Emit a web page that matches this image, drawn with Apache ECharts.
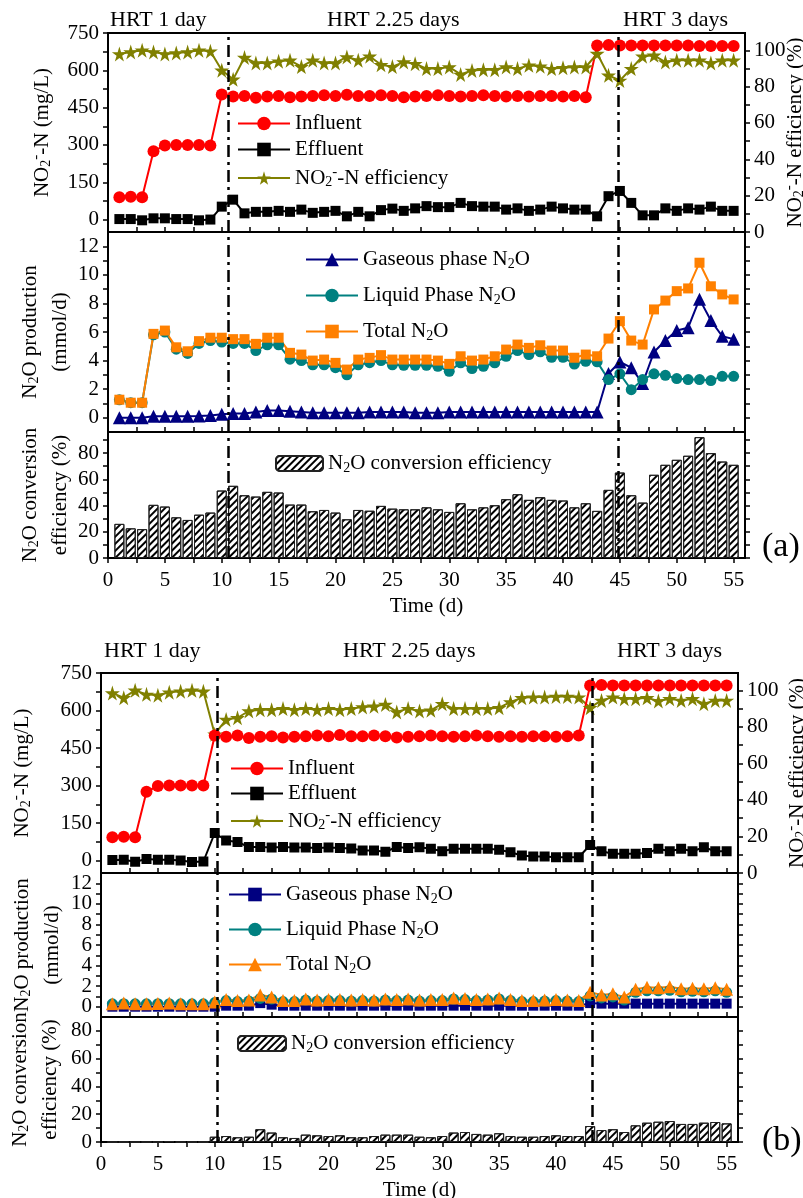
<!DOCTYPE html>
<html>
<head>
<meta charset="utf-8">
<script src="https://cdn.jsdelivr.net/npm/echarts@6/dist/echarts.min.js"></script>
<style>
  html, body { margin: 0; padding: 0; background: #fff; }
  #main { width: 803px; height: 1198px; }
</style>
</head>
<body>
<div id="main"></div>
<script>
// days of operation
var days = [1,2,3,4,5,6,7,8,9,10,11,12,13,14,15,16,17,18,19,20,21,22,23,24,25,26,27,28,29,30,
  31,32,33,34,35,36,37,38,39,40,41,42,43,44,45,46,47,48,49,50,51,52,53,54,55];

// tick labels / tick positions
var xLabels = [0,5,10,15,20,25,30,35,40,45,50,55];
var xTicks = [0,2.5,5,7.5,10,12.5,15,17.5,20,22.5,25,27.5,30,32.5,35,37.5,40,42.5,45,47.5,50,52.5,55];
var nitLabels = [0,150,300,450,600,750];
var nitTicks = [0,75,150,225,300,375,450,525,600,675,750];
var effLabels = [0,20,40,60,80,100];
var effTicks = [0,10,20,30,40,50,60,70,80,90,100];
var prodLabels = [0,2,4,6,8,10,12];
var prodLabelsEven = [0,4,8,12];   // (b) panel is short: labels split over two axes
var prodLabelsOdd = [2,6,10];
var prodTicks = [0,1,2,3,4,5,6,7,8,9,10,11,12];
var convLabels = [0,20,40,60,80];
var convTicks = [0,10,20,30,40,50,60,70,80,90];

// HRT switch days (dash-dot lines)
var switchA = [10.58, 44.85];
var switchB = [10.2, 43.2];

// (a) NO2- -N (mg/L) and removal efficiency (%)
var influentA = [90,92,90,275,298,300,300,300,298,503,
  495,497,490,495,497,492,495,497,500,497,
  502,497,497,500,497,492,495,497,500,497,
  495,497,500,497,495,497,495,497,497,495,
  497,492,700,702,700,700,700,700,700,700,
  700,698,698,698,698];
var effluentA = [2,2,-3,5,5,2,2,-3,0,52,
  80,25,31,31,35,31,40,27,31,35,
  13,31,13,38,44,35,45,54,50,50,
  67,54,52,52,40,45,35,40,52,45,
  40,40,13,94,115,67,17,17,45,35,
  45,40,52,35,35];
var effA = [98,99,100,99,98,98.5,99,100,99.5,89,
  84,96,93,93,94,94.5,91,94.5,93,93,
  96.3,94.5,96.7,92,91,93.5,92.6,89.9,89.9,90.8,
  86.7,88.9,89.3,89.3,90.8,89.9,91.7,91.2,89.9,90.4,
  90.8,90.8,98.2,86.2,83.4,89.9,96.7,97.2,93.5,94.5,
  94.5,94.5,93,94.5,94.5];
// (a) N2O production (mmol/d)
var gasA = [0,0,0,0.1,0.1,0.1,0.1,0.12,0.15,0.25,
  0.3,0.3,0.4,0.5,0.5,0.45,0.4,0.35,0.35,0.35,
  0.35,0.35,0.4,0.4,0.4,0.4,0.35,0.35,0.35,0.4,
  0.4,0.4,0.4,0.4,0.4,0.4,0.4,0.4,0.4,0.4,
  0.4,0.4,0.4,3.1,3.9,3.5,2.4,4.6,5.4,6.1,
  6.3,8.3,6.8,5.7,5.5];
var liqA = [1.25,1.05,1.05,5.8,6.0,4.8,4.5,5.2,5.4,5.3,
  5.2,5.2,4.7,5.1,5.1,4.1,4.0,3.7,3.7,3.5,
  3.0,3.7,3.85,4.0,3.7,3.67,3.67,3.67,3.6,3.25,
  3.84,3.44,3.6,3.84,4.3,4.7,4.42,4.61,4.23,4.23,
  3.76,3.95,3.91,2.67,3.07,1.96,2.67,3.07,2.97,2.74,
  2.67,2.67,2.6,2.9,2.9];
var totA = [1.26,1.05,1.05,5.87,6.1,4.93,4.65,5.36,5.6,5.6,
  5.5,5.5,5.17,5.6,5.6,4.54,4.42,4.0,4.07,3.84,
  3.37,4.07,4.19,4.38,4.07,4.07,4.07,4.07,4.0,3.77,
  4.3,4.0,4.07,4.3,4.77,5.12,4.89,5.07,4.7,4.7,
  4.2,4.42,4.3,5.54,6.76,5.4,5.12,7.58,8.2,8.86,
  9.05,10.85,9.2,8.63,8.28];
// (a) N2O conversion efficiency (%)
var convA = [26,22.6,22,40.5,39.2,31,29,33,34.6,51.4,
  55,47.8,46.8,50.4,49.9,40.7,40.7,35.6,36.6,34.6,
  29.5,36.6,36,39.7,37.6,37.1,37.1,38.6,37.1,35.1,
  41.7,37.1,38.6,40.2,44.8,48.6,44.3,46.3,44.3,43.8,
  38.6,41.7,35.9,51.9,65.1,47.8,42.2,63.4,71,74.8,
  77.9,92.1,79.9,73.5,71];

// (b) same quantities
var influentB = [93,95,93,275,298,300,300,300,300,500,
  495,500,490,495,497,492,495,497,500,497,
  502,497,497,500,497,492,495,497,500,497,
  495,497,500,497,495,497,495,497,497,495,
  497,500,700,702,700,700,700,700,700,700,
  700,700,700,700,700];
var effluentB = [2,3,-5,6,3,3,0,-6,-4,110,
  80,74,54,54,52,54,52,52,50,52,
  50,48,40,40,35,54,50,53,47,37,
  47,47,47,47,43,33,20,16,16,13,
  13,13,62,37,27,27,27,30,47,37,
  47,37,53,37,37];
var effB = [98.5,96,100,97.8,97.3,99,99.5,100,99.5,76,
  84,85,88.7,89.4,89.4,90,89.4,90,89.4,90,
  89.4,90,90.9,91.3,92.3,88.2,90,88.7,89.1,92.7,
  90,90,90,90,90.5,93.6,95.9,96.3,96.3,96.7,
  96.7,96.3,90.5,94.5,96.3,95.4,95.4,95.9,94.2,95.4,
  94.5,95.4,92.7,94.5,94.5];
var gasB = [0,0,0,0,0,0,0,0,0,0,
  0.1,0.1,0.1,0.35,0.2,0.1,0.1,0.1,0.1,0.1,
  0.1,0.1,0.1,0.1,0.1,0.1,0.1,0.1,0.1,0.1,
  0.1,0.1,0.1,0.1,0.1,0.1,0.1,0.1,0.1,0.1,
  0.1,0.1,0.35,0.3,0.3,0.3,0.3,0.3,0.3,0.3,
  0.3,0.3,0.3,0.3,0.3];
var liqB = [0.28,0.3,0.28,0.28,0.3,0.3,0.28,0.28,0.28,0.4,
  0.6,0.5,0.55,0.8,0.75,0.5,0.5,0.65,0.55,0.6,
  0.6,0.55,0.6,0.55,0.65,0.6,0.65,0.55,0.6,0.6,
  0.75,0.7,0.6,0.65,0.75,0.6,0.5,0.5,0.55,0.6,
  0.55,0.5,1.05,0.85,0.95,0.65,1.4,1.55,1.55,1.6,
  1.45,1.5,1.45,1.55,1.4];
var totB = [0.3,0.35,0.3,0.3,0.32,0.35,0.3,0.3,0.3,0.45,
  0.7,0.6,0.65,1.15,0.95,0.6,0.6,0.75,0.65,0.7,
  0.7,0.65,0.7,0.65,0.75,0.7,0.75,0.65,0.7,0.7,
  0.85,0.8,0.7,0.75,0.85,0.7,0.6,0.6,0.65,0.7,
  0.65,0.6,1.4,1.15,1.25,0.95,1.7,1.9,1.85,1.95,
  1.75,1.8,1.75,1.85,1.7];
var convB = [0,0,0,0,0,0.5,0,0,0,3.8,
  4.3,3.4,3.8,9.2,6.8,3.4,2.9,5.3,4.8,4.3,
  4.8,3.4,3.4,4.3,5.3,5.3,5.3,3.8,3.4,4.3,
  6.8,7.2,5.8,5.3,6.3,4.3,3.8,3.8,4.3,4.8,
  4.3,4.3,11.5,8.6,9.2,7.2,12,13.9,14.6,15.1,
  13,13,13.9,14.4,13.4];

var serif = 'Liberation Serif';
var black = '#000';
var star = 'path://M50,0 L61,35 L98,35 L68,57 L79,91 L50,70 L21,91 L32,57 L2,35 L39,35 Z';

// rich styles for sub / superscripts
var rich = {
  n: { fontSize: 21, fontFamily: serif, color: black },
  s: { fontSize: 14, fontFamily: serif, color: black, padding: [9, 0, 0, 0] },
  p: { fontSize: 15, fontFamily: serif, color: black, padding: [0, 0, 11, 0] }
};

var legendText = {
  aInf: '{n|Influent}', aEff: '{n|Effluent}', aPct: '{n|NO}{s|2}{p|-}{n|-N efficiency}',
  aGas: '{n|Gaseous phase N}{s|2}{n|O}', aLiq: '{n|Liquid Phase N}{s|2}{n|O}', aTot: '{n|Total N}{s|2}{n|O}',
  aConv: '{n|N}{s|2}{n|O conversion efficiency}',
  bInf: '{n|Influent}', bEff: '{n|Effluent}', bPct: '{n|NO}{s|2}{p|-}{n|-N efficiency}',
  bGas: '{n|Gaseous phase N}{s|2}{n|O}', bLiq: '{n|Liquid Phase N}{s|2}{n|O}', bTot: '{n|Total N}{s|2}{n|O}',
  bConv: '{n|N}{s|2}{n|O conversion efficiency}'
};

var gridBoxes = [
  { left: 108, right: 58, top: 33, height: 199 },
  { left: 108, right: 58, top: 232, height: 200 },
  { left: 108, right: 58, top: 432, height: 126 },
  { left: 101, right: 65, top: 673, height: 200 },
  { left: 101, right: 65, top: 873, height: 144 },
  { left: 101, right: 65, top: 1017, height: 125 }
];
var grids = gridBoxes.map(function (g) {
  return Object.assign({
    show: true, borderColor: black, borderWidth: 2, backgroundColor: 'transparent',
    containLabel: false, outerBoundsMode: 'none'
  }, g);
});

var xAxes = [];
for (var g = 0; g < 6; g++) {
  var bottom = (g === 2 || g === 5);
  xAxes.push({
    type: 'value', gridIndex: g, min: 0, max: 56,
    axisLine: { show: false, onZero: false },
    axisTick: { show: true, inside: !bottom, length: 5, customValues: xTicks, lineStyle: { color: black, width: 1.5 } },
    axisLabel: { show: bottom, customValues: xLabels, fontSize: 21, fontFamily: serif, color: black, margin: 12, hideOverlap: false },
    splitLine: { show: false },
    name: bottom ? 'Time (d)' : '', nameLocation: 'middle', nameGap: 38, nameMoveOverlap: false,
    nameTextStyle: { fontSize: 21, fontFamily: serif, color: black }
  });
}

function yAx(g, pos, min, max, labels, ticks, name, gap) {
  return {
    type: 'value', gridIndex: g, position: pos, min: min, max: max,
    axisLine: { show: false, onZero: false },
    axisTick: { show: !!ticks, length: 5, customValues: ticks || labels, lineStyle: { color: black, width: 1.5 } },
    axisLabel: {
      show: !!labels, customValues: labels || ticks, fontSize: 21, fontFamily: serif, color: black,
      margin: 9, hideOverlap: false, showMinLabel: true, showMaxLabel: true
    },
    splitLine: { show: false },
    name: name || '', nameLocation: 'middle', nameRotate: 90, nameGap: gap || 0, nameMoveOverlap: false,
    nameTextStyle: { rich: rich, align: 'center', lineHeight: 30 }
  };
}

var nitName = '{n|NO}{s|2}{p|-}{n|-N (mg/L)}';
var pctName = '{n|NO}{s|2}{p|-}{n|-N efficiency (%)}';
var prodName = '{n|N}{s|2}{n|O production}\n{n|(mmol/d)}';
var convName = '{n|N}{s|2}{n|O conversion}\n{n|efficiency (%)}';

var yAxes = [
  yAx(0, 'left', -50, 750, nitLabels, nitTicks, nitName, 51),
  yAx(0, 'right', 0, 109.5, effLabels, effTicks, pctName, 35),
  yAx(1, 'left', -1, 13, prodLabels, prodTicks, prodName, 33),
  yAx(1, 'right', -1, 13, null, prodTicks),
  yAx(2, 'left', 0, 96, convLabels, convTicks, convName, 33),
  yAx(2, 'right', 0, 96, null, convTicks),
  yAx(3, 'left', -50, 750, nitLabels, nitTicks, nitName, 64),
  yAx(3, 'right', 0, 109.5, effLabels, effTicks, pctName, 44),
  yAx(4, 'left', -1, 13, prodLabelsEven, prodTicks, prodName, 34),
  yAx(4, 'right', -1, 13, null, prodTicks),
  yAx(5, 'left', 0, 90, convLabels, convTicks.slice(0, 9), convName, 36),
  yAx(5, 'right', 0, 90, null, convTicks.slice(0, 9)),
  yAx(4, 'left', -1, 13, prodLabelsOdd, null)
];

function pts(vals) {
  return days.map(function (d, i) { return [d, vals[i]]; });
}
function dashes(at) {
  return {
    silent: true, symbol: ['none', 'none'], label: { show: false },
    lineStyle: { color: black, width: 2.5, type: [12, 5, 3, 5] },
    data: [{ xAxis: at[0] }, { xAxis: at[1] }]
  };
}
function line(id, g, y, vals, color, symbol, size, marks) {
  var s = {
    name: id, type: 'line', xAxisIndex: g, yAxisIndex: y, data: pts(vals),
    symbol: symbol, symbolSize: size, color: color,
    lineStyle: { color: color, width: 2 }, itemStyle: { color: color }
  };
  if (marks) s.markLine = dashes(marks);
  return s;
}
// "////" hatching of the conversion bars
var hatch = { symbol: 'rect', symbolSize: 1, dashArrayX: [1, 0], dashArrayY: [1.3, 3], rotation: -Math.PI / 4, color: black };
function bars(id, g, y, vals, marks) {
  return {
    name: id, type: 'bar', xAxisIndex: g, yAxisIndex: y, data: pts(vals), barWidth: 10,
    itemStyle: { color: '#fff', borderColor: '#222', borderWidth: 1, decal: hatch },
    markLine: dashes(marks)
  };
}

var red = '#ff0000', olive = '#808000', navy = '#000080', teal = '#008080', orange = '#ff8000';

var series = [
  line('aPct', 0, 1, effA, olive, star, 15, switchA),
  line('aInf', 0, 0, influentA, red, 'circle', 12),
  line('aEff', 0, 0, effluentA, black, 'rect', 10),
  line('aGas', 1, 2, gasA, navy, 'triangle', 13, switchA),
  line('aLiq', 1, 2, liqA, teal, 'circle', 11),
  line('aTot', 1, 2, totA, orange, 'rect', 10),
  bars('aConv', 2, 4, convA, switchA),
  line('bPct', 3, 7, effB, olive, star, 15, switchB),
  line('bInf', 3, 6, influentB, red, 'circle', 12),
  line('bEff', 3, 6, effluentB, black, 'rect', 10),
  line('bGas', 4, 8, gasB, navy, 'rect', 10, switchB),
  line('bLiq', 4, 8, liqB, teal, 'circle', 11),
  line('bTot', 4, 8, totB, orange, 'triangle', 13),
  bars('bConv', 5, 10, convB, switchB)
];

function legend(ids, left, top, gap, w, h) {
  return {
    data: ids, orient: 'vertical', left: left, top: top, itemGap: gap,
    itemWidth: w, itemHeight: h, selectedMode: false, padding: 0,
    formatter: function (n) { return legendText[n]; },
    textStyle: { fontSize: 21, fontFamily: serif, color: black, rich: rich }
  };
}

var legends = [
  legend(['aInf', 'aEff', 'aPct'], 237, 113, 5, 52, 17),
  legend(['aGas', 'aLiq', 'aTot'], 305, 249, 14, 52, 17),
  legend(['aConv'], 275, 453, 0, 47, 15),
  legend(['bInf', 'bEff', 'bPct'], 230, 758, 4, 52, 17),
  legend(['bGas', 'bLiq', 'bTot'], 228, 884, 13, 52, 17),
  legend(['bConv'], 237, 1033, 0, 48, 15)
];

function txt(s, left, top, size) {
  return { type: 'text', left: left, top: top, style: { text: s, fontSize: size || 22, fontFamily: serif, fill: black } };
}

var option = {
  animation: false,
  backgroundColor: '#fff',
  grid: grids,
  xAxis: xAxes,
  yAxis: yAxes,
  legend: legends,
  series: series,
  graphic: [
    txt('HRT 1 day', 110, 9), txt('HRT 2.25 days', 327, 9), txt('HRT 3 days', 623, 9),
    txt('HRT 1 day', 104, 640), txt('HRT 2.25 days', 343, 640), txt('HRT 3 days', 617, 640),
    txt('(a)', 762, 530, 34), txt('(b)', 762, 1124, 34)
  ]
};

var myChart = echarts.init(document.getElementById('main'));
myChart.setOption(option);
</script>
</body>
</html>
